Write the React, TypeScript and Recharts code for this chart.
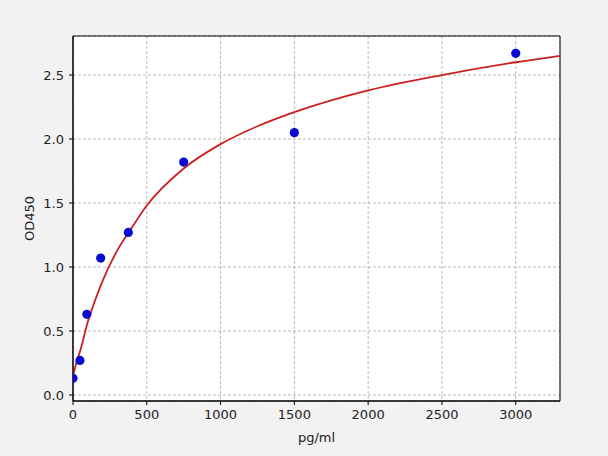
import React from 'react';
import {
  ComposedChart,
  Line,
  Scatter,
  XAxis,
  YAxis,
  CartesianGrid,
  ReferenceArea,
  Label,
} from 'recharts';

// measured standards (pg/ml -> OD450)
const concentrations = [0, 46.875, 93.75, 187.5, 375, 750, 1500, 3000];
const odValues = [0.13, 0.27, 0.63, 1.07, 1.27, 1.82, 2.05, 2.67];

// fitted curve
const curveX = [0, 25, 50, 100, 150, 200, 300, 400, 500, 750, 1000, 1250, 1500, 2000, 2500, 3000, 3300];
const curveY = [0.15, 0.26, 0.35, 0.57, 0.74, 0.89, 1.13, 1.31, 1.48, 1.77, 1.96, 2.1, 2.21, 2.38, 2.5, 2.6, 2.65];

const xTicks = [0, 500, 1000, 1500, 2000, 2500, 3000];
const yTicks = [0, 0.5, 1, 1.5, 2, 2.5];

const X_MIN = 0;
const X_MAX = 3300;
const Y_MIN = -0.047;
const Y_MAX = 2.805;

const points = concentrations.map((x, i) => ({ x, y: odValues[i] }));
const curve = curveX.map((x, i) => ({ x, y: curveY[i] }));

const font = 'DejaVu Sans, sans-serif';
const tickStyle = { fill: '#222', fontSize: 13, fontFamily: font };

const Dot = (props: any) => <circle cx={props.cx} cy={props.cy} r={4.6} fill="#0a0ad0" />;

export default function App() {
  return (
    <div style={{ position: 'fixed', top: 0, left: 0, width: 608, height: 456, background: '#f2f2f2' }}>
      <ComposedChart width={608} height={456} margin={{ top: 36, right: 48, bottom: 0, left: 0 }}>
        <CartesianGrid fill="#fff" stroke="#b0b0b0" strokeDasharray="3 2" strokeWidth={0.9} />
        <XAxis
          dataKey="x"
          type="number"
          domain={[X_MIN, X_MAX]}
          ticks={xTicks}
          allowDataOverflow
          height={55}
          tickSize={4}
          tickMargin={5}
          tick={tickStyle}
          stroke="#000"
        >
          <Label value="pg/ml" position="insideBottom" offset={14} style={{ fill: '#222', fontSize: 13, fontFamily: font }} />
        </XAxis>
        <YAxis
          dataKey="y"
          type="number"
          domain={[Y_MIN, Y_MAX]}
          ticks={yTicks}
          allowDataOverflow
          width={73}
          tickSize={4}
          tickMargin={5}
          tick={tickStyle}
          tickFormatter={(v: number) => v.toFixed(1)}
          stroke="#000"
        >
          <Label value="OD450" angle={-90} position="center" dx={-7} style={{ fill: '#222', fontSize: 13, fontFamily: font }} />
        </YAxis>
        <Line
          data={curve}
          dataKey="y"
          type="monotone"
          stroke="#cc1f1f"
          strokeWidth={1.8}
          dot={false}
          activeDot={false}
          isAnimationActive={false}
        />
        <Scatter data={points} dataKey="y" shape={<Dot />} isAnimationActive={false} />
        <ReferenceArea x1={X_MIN} x2={X_MAX} y1={Y_MIN} y2={Y_MAX} fill="none" stroke="#000" strokeWidth={1} ifOverflow="visible" />
      </ComposedChart>
    </div>
  );
}
